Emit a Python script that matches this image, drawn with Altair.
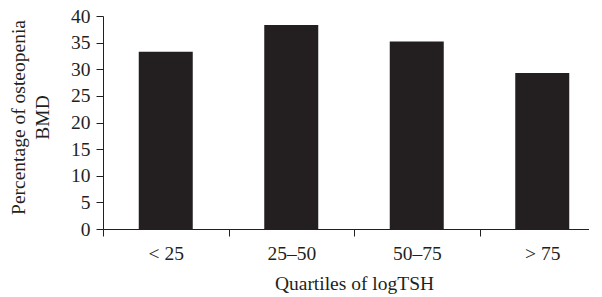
import altair as alt
import pandas as pd

categories = ["< 25", "25–50", "50–75", "> 75"]
values = [33.3, 38.3, 35.2, 29.3]

df = pd.DataFrame({"q": categories, "v": values})

INK = "#231f20"
FONT = "Liberation Serif"

chart = alt.Chart(df).mark_bar(size=54, color=INK).encode(
    x=alt.X(
        "q:N",
        sort=categories,
        scale=alt.Scale(paddingInner=0, paddingOuter=0, range=[0, 502]),
        axis=alt.Axis(
            title="Quartiles of logTSH",
            labelAngle=0,
            tickBand="extent",
            tickSize=7,
            labelPadding=8,
            titleX=251,
            titleY=60,
            titleBaseline="alphabetic",
        ),
    ),
    y=alt.Y(
        "v:Q",
        scale=alt.Scale(domain=[0, 40]),
        axis=alt.Axis(
            title=["Percentage of osteopenia", "BMD"],
            values=[0, 5, 10, 15, 20, 25, 30, 35, 40],
            tickSize=7,
            labelPadding=6,
            titleX=-85,
            titleY=101,
            titleAlign="center",
            titleBaseline="middle",
            titleLineHeight=24,
            grid=False,
        ),
    ),
).properties(
    width=486,
    height=213,
    autosize=alt.AutoSizeParams(type="none"),
    padding={"left": 95, "top": 8, "right": 0, "bottom": 72},
).configure_view(
    stroke=None
).configure_axis(
    labelFont=FONT,
    titleFont=FONT,
    labelFontSize=19.5,
    titleFontSize=19.5,
    titleFontWeight="normal",
    labelColor=INK,
    titleColor=INK,
    domainColor=INK,
    tickColor=INK,
    domainWidth=1,
    tickWidth=1,
    grid=False,
)

chart.save("out.html", embed_options={"renderer": "svg", "actions": False})
